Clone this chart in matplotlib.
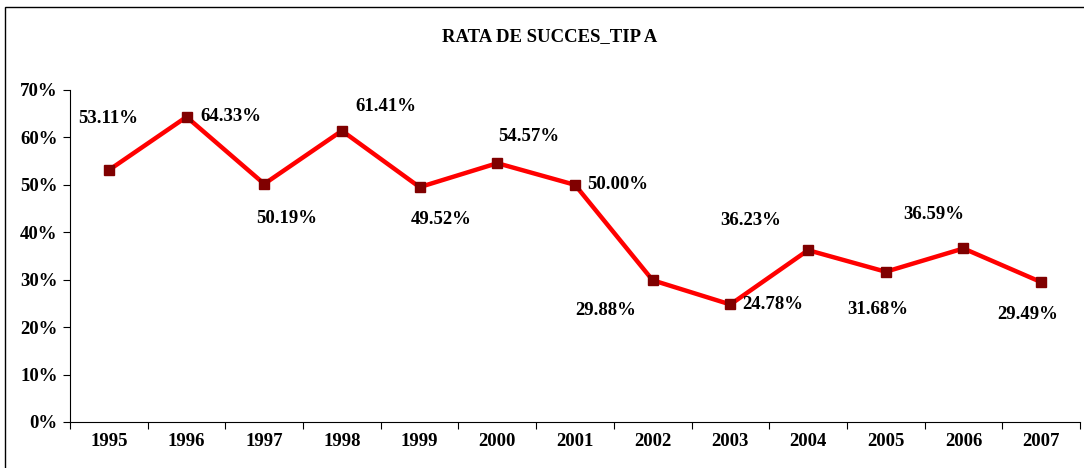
import matplotlib
matplotlib.use("Agg")
import matplotlib.pyplot as plt
from matplotlib.patches import Rectangle
import numpy as np

years = ["1995", "1996", "1997", "1998", "1999", "2000", "2001",
         "2002", "2003", "2004", "2005", "2006", "2007"]
rate = [53.11, 64.33, 50.19, 61.41, 49.52, 54.57, 50.00,
        29.88, 24.78, 36.23, 31.68, 36.59, 29.49]
yticks = [0, 10, 20, 30, 40, 50, 60, 70]

# label offsets in pixels (dx, dy) relative to each point
offs = [(-1, 52), (44, 0), (22, -35), (44, 24), (22, -32), (31, 27), (43, 0),
        (-47, -30), (42, 0), (-57, 30), (-8, -38), (-30, 34), (-13, -32)]

plt.rcParams["font.family"] = ["Liberation Serif", "DejaVu Serif"]
plt.rcParams["font.weight"] = "bold"
FS = 13.5

fig = plt.figure(figsize=(10.84, 4.68), dpi=100)
fig.patches.append(Rectangle((5 / 1084, -0.1), 1.2, (468 - 7) / 468 + 0.1,
                             transform=fig.transFigure, fill=False,
                             ec="black", lw=1.0))
ax = fig.add_axes([70 / 1084, (468 - 422) / 468, (1080 - 70) / 1084,
                   (422 - 90) / 468])

x = np.arange(len(years))
ax.plot(x, rate, color="#ff0000", lw=3.2, marker="s", ms=7,
        mfc="#800000", mec="#800000", zorder=3)
for xi, v, (dx, dy) in zip(x, rate, offs):
    ax.annotate(f"{v:.2f}%", (xi, v), textcoords="offset pixels",
                xytext=(dx, dy), ha="center", va="center",
                fontsize=FS, fontweight="bold")

ax.set_xlim(-0.5, len(years) - 0.5)
ax.set_ylim(0, 70)
ax.set_yticks(yticks)
ax.set_yticklabels([f"{t}%" for t in yticks], fontsize=FS, fontweight="bold")
ax.set_xticks(np.arange(len(years) + 1) - 0.5)
ax.set_xticklabels([])
ax.set_xticks(x, minor=True)
ax.set_xticklabels(years, minor=True, fontsize=FS, fontweight="bold")
ax.tick_params(axis="x", which="minor", length=0, pad=8)
ax.tick_params(axis="x", which="major", length=5, direction="out")
ax.tick_params(axis="y", length=5, direction="out", pad=4)
for sp in ("top", "right"):
    ax.spines[sp].set_visible(False)

fig.text(550 / 1084, 1 - 37 / 468, "RATA DE SUCCES_TIP A", ha="center",
         va="center", fontsize=FS, fontweight="bold")

fig.savefig("out.png", dpi=100)
